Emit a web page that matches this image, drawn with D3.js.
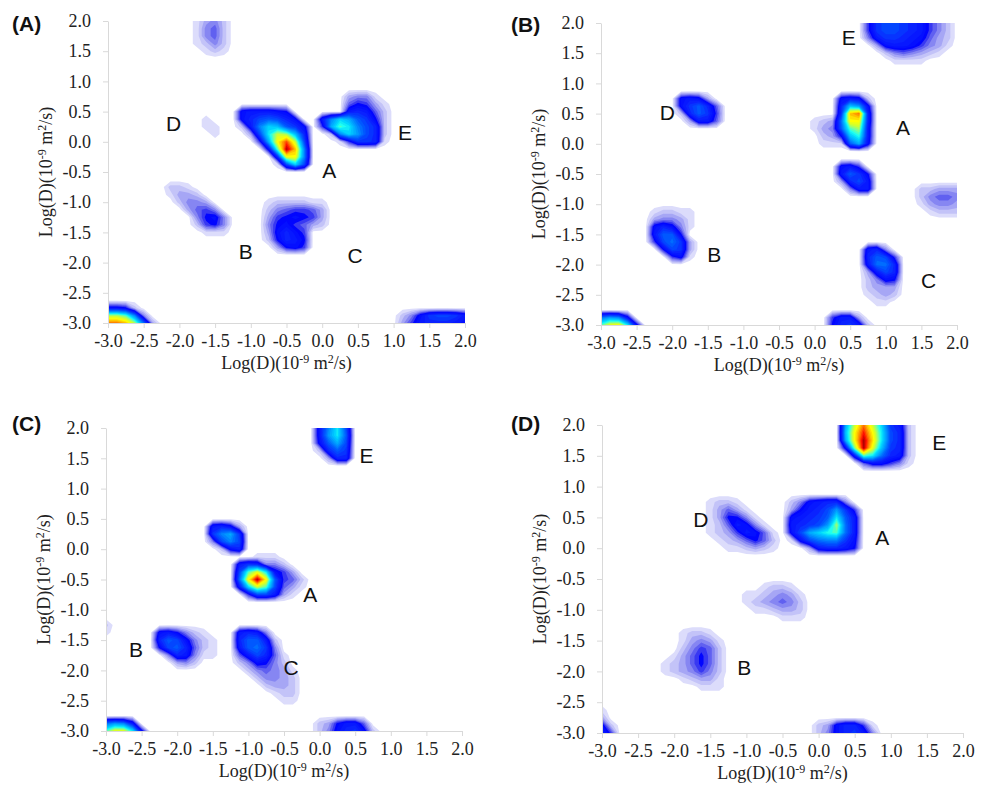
<!DOCTYPE html>
<html>
<head>
<meta charset="utf-8">
<script src="https://cdn.jsdelivr.net/npm/d3@7"></script>
<style>
  body { margin: 0; background: #fff; }
</style>
</head>
<body>
<svg id="chart" width="981" height="788"></svg>
<script>
// grid: log(D) from -3 to 2 on both axes, step 0.125 (41 x 41 points)
// each patch: top-left corner (x, y) in data units, rows go down, columns go right
// each character is an intensity level in base 36 (0 = nothing, z = 35 = peak max)
const step = 0.125

const xTicks = [-3, -2.5, -2, -1.5, -1, -0.5, 0, 0.5, 1, 1.5, 2]
const yTicks = [-3, -2.5, -2, -1.5, -1, -0.5, 0, 0.5, 1, 1.5, 2]

const panelA = [
  {x: -1.875, y: 2, rows: ['013420', '014520', '014520', '012420', '001210', '000000']},
  {x: -1.75, y: 0.5, rows: ['0000', '0100', '0110', '0010', '0000']},
  {x: -1.25, y: 0.625, rows: ['00000000000', '08999870000', '08acdca8000', '029fjidb800', '003ckpoia00',
    '0006hrwpc00', '00008mztf00', '00000aqrf00', '000001cjc00', '00000000000']},
  {x: -0.25, y: 1, rows: ['00000000000', '00000000000', '00000344100', '00000576310', '000009a9520',
    '009fjhdb720', '006hmkfca20', '0002fjgca20', '000016bba10', '00000000000']},
  {x: -2.25, y: -0.625, rows: ['000000000', '022100000', '013320000', '002443000', '000356400',
    '000047840', '000026740', '000001110', '000000000']},
  {x: -0.875, y: -0.875, rows: ['0000000000', '0122221100', '0245665300', '0367876300', '0478653200',
    '038a860000', '027a970000', '0037860000', '0000000000']},
  {x: -3, y: -2.625, rows: ['0000000', '8872000', 'oomf400', 'vvtoe30']},
  {x: 1, y: -2.75, rows: ['000000000', '0248bccb9', '0369aaa98']}
]

const panelB = [
  {x: 0.625, y: 2, rows: ['06bccba96420', '06bccba96420', '049bba985320', '003899864310', '000245432100',
    '000011110000', '000000000000']},
  {x: 0, y: 0.875, rows: ['00000000', '00089820', '000aig80', '000btva0', '123erra0', '134dmo90',
    '0237il90', '0111dh80', '00000000']},
  {x: 0.25, y: -0.25, rows: ['000000', '089600', '09db70', '03ac90', '004990', '000000']},
  {x: -2, y: 0.875, rows: ['0000000', '0898300', '08bda50', '02adb60', '0039950', '0000000']},
  {x: -2.375, y: -1, rows: ['000000', '012211', '034431', '08a841', '09dd70', '06ceb3', '007cb3',
    '000681', '000000']},
  {x: 0.5, y: -1.625, rows: ['0000000', '009a400', '00adc60', '009eea0', '0039ca0', '0024870',
    '0023330', '0012320', '0001100', '0000000']},
  {x: 1.375, y: -0.625, rows: ['000000', '022333', '024554', '013443', '001222', '000000']},
  {x: -3, y: -2.75, rows: ['000000', 'egf800', 'mqrk80']},
  {x: 0.125, y: -2.75, rows: ['000000', '069930', '07ab92']}
]

const panelC = [
  {x: -0.125, y: 2, rows: ['09fkc0', '09gkd0', '08dhc0', '02adb0', '003aa0', '000000']},
  {x: -1.625, y: 0.5, rows: ['000000', '09a830', '0bfhb0', '04cfc0', '0028a0', '000000']},
  {x: -1.25, y: -0.125, rows: ['0001110000', '09ba442000', '0cmqk86300', '0erzrd6520', '09jpmc5310',
    '006cc93100', '0000000000']},
  {x: -2.375, y: -1.25, rows: ['000000000', '089742100', '0adc84210', '07cda5210', '004a94110',
    '000342000', '000000000']},
  {x: -3, y: -1.125, rows: ['00', '20', '10', '00']},
  {x: -1.25, y: -1.25, rows: ['000000000', '09a940000', '0add92000', '09deb4000', '059ca5100',
    '024874200', '002454310', '000244320', '000023320', '000001220', '000000110', '000000000']},
  {x: -3, y: -2.75, rows: ['000000', 'egf900', 'mqqk80']},
  {x: -0.125, y: -2.75, rows: ['000000000', '023799500', '0248ab820']}
]

const panelD = [
  {x: 0.25, y: 2, rows: ['0hpvpjb920', '0irxrkca20', '0hrzskca20', '08nzqiba20', '009mkea920',
    '0005886410', '0000000000']},
  {x: -0.5, y: 0.875, rows: ['0000000000', '02489aa400', '0379acgb60', '089abdkd90', '09abcgoe90',
    '08chjlme90', '018ceffb80', '00039aa970', '0000000000']},
  {x: -1.625, y: 0.875, rows: ['0000000000', '0122100000', '0135310000', '0137741000', '0125984100',
    '0123698510', '0012357520', '0001123210', '0000000000']},
  {x: -1.125, y: -0.5, rows: ['000000000', '000122100', '011234310', '012345420', '001123320',
    '000001110', '000000000']},
  {x: -2.25, y: -1.25, rows: ['000000000', '000122100', '000134310', '000246520', '001357520',
    '012357520', '012346420', '000123310', '000001110', '000000000']},
  {x: -3, y: -2.5, rows: ['000', '100', '300', '820', 'a60']},
  {x: -0.125, y: -2.75, rows: ['000000000', '0238aa610', '0248ab940']}
]

// peak names and where they sit, in data units
const labelsA = [['D', -2.08, 0.31], ['A', 0.1, -0.47], ['E', 1.16, 0.15], ['B', -1.07, -1.82], ['C', 0.46, -1.89]]
const labelsB = [['E', 0.48, 1.76], ['D', -2.07, 0.52], ['A', 1.24, 0.27], ['B', -1.41, -1.84], ['C', 1.6, -2.27]]
const labelsC = [['E', 0.66, 1.55], ['A', -0.13, -0.74], ['B', -2.58, -1.66], ['C', -0.4, -1.96]]
const labelsD = [['E', 1.67, 1.72], ['D', -1.63, 0.46], ['A', 0.88, 0.18], ['B', -1.03, -1.94]]

// layout
const frames = {
  A: {l: 108, r: 465, t: 21, b: 323, tag: [12, 31]},
  B: {l: 601, r: 957, t: 23, b: 325, tag: [511, 32]},
  C: {l: 106, r: 462, t: 428, b: 731, tag: [12, 431]},
  D: {l: 602, r: 963, t: 425, b: 733, tag: [511, 431]}
}
const serif = "'Liberation Serif', 'Times New Roman', 'DejaVu Serif', serif"
const sans = "'Liberation Sans', Arial, 'DejaVu Sans', sans-serif"

const svg = d3.select('#chart')

const thresholds = d3.range(0.5, 35, 1)
const lavender = ['#dcdcfb', '#c3c3f8', '#a6a6f5', '#8686f2', '#6060f0', '#3838f2']
const jet = d3.scaleLinear()
  .domain([6.5, 10, 13, 16, 19, 21, 23, 25, 27, 29, 31, 33, 35])
  .range(['#0000ff', '#0a22ff', '#0058ff', '#0098ff', '#00d4ff', '#20fff0', '#80ff90',
    '#d0ff30', '#ffff00', '#ffc000', '#ff7000', '#ff1000', '#a80000'])
  .clamp(true)
const bandColor = t => t < 6 ? lavender[Math.round(t - 0.5)] : jet(t + 0.5)

const n = 41

const buildGrid = patches => {
  const g = new Array(n * n).fill(0)
  patches.forEach(p => {
    const c0 = Math.round((p.x + 3) / step)
    const r0 = Math.round((2 - p.y) / step)
    p.rows.forEach((row, r) => {
      [...row].forEach((ch, c) => {
        const i = (r0 + r) * n + c0 + c
        g[i] = Math.max(g[i], parseInt(ch, 36))
      })
    })
  })
  return g
}

const fmt = d => d.toFixed(1)

const axisTitle = sel => {
  sel.style('font-family', serif).attr('font-size', 18).attr('fill', '#222')
  sel.append('tspan').text('Log(D)(10')
  sel.append('tspan').attr('font-size', 12).attr('dy', -6).text('-9')
  sel.append('tspan').attr('dy', 6).text(' m')
  sel.append('tspan').attr('font-size', 12).attr('dy', -6).text('2')
  sel.append('tspan').attr('dy', 6).text('/s)')
}

const drawPanel = (key, patches, labels) => {
  const f = frames[key]
  const xs = d3.scaleLinear().domain([-3, 2]).range([f.l, f.r])
  const ys = d3.scaleLinear().domain([-3, 2]).range([f.b, f.t])
  const g = svg.append('g')

  g.append('clipPath').attr('id', 'clip' + key)
    .append('rect')
    .attr('x', f.l).attr('y', f.t)
    .attr('width', f.r - f.l).attr('height', f.b - f.t)

  const grid = buildGrid(patches)
  const contours = d3.contours().size([n, n]).thresholds(thresholds)(grid)

  const path = d3.geoPath(d3.geoTransform({
    point(cx, cy) {
      this.stream.point(xs(-3 + step * (cx - 0.5)), ys(2 - step * (cy - 0.5)))
    }
  }))

  g.append('g')
    .attr('clip-path', `url(#clip${key})`)
    .selectAll('path')
    .data(contours)
    .join('path')
    .attr('d', path)
    .attr('fill', d => bandColor(d.value))

  const ax = g.append('g')
    .attr('transform', `translate(0,${f.b})`)
    .call(d3.axisBottom(xs).tickValues(xTicks).tickFormat(fmt).tickSize(5).tickSizeOuter(0).tickPadding(6))
  const ay = g.append('g')
    .attr('transform', `translate(${f.l},0)`)
    .call(d3.axisLeft(ys).tickValues(yTicks).tickFormat(fmt).tickSize(5).tickSizeOuter(0).tickPadding(12))

  ;[ax, ay].forEach(a => {
    a.attr('font-family', null)
    a.select('.domain').attr('stroke', '#d9d9d9')
    a.selectAll('.tick line').attr('stroke', '#d9d9d9')
    a.selectAll('text')
      .style('font-family', serif)
      .attr('font-size', 18)
      .attr('fill', '#222')
  })

  g.append('text')
    .attr('x', (f.l + f.r) / 2)
    .attr('y', f.b + 46)
    .attr('text-anchor', 'middle')
    .call(axisTitle)

  g.append('text')
    .attr('transform', `translate(${f.l - 56},${(f.t + f.b) / 2}) rotate(-90)`)
    .attr('text-anchor', 'middle')
    .call(axisTitle)

  g.selectAll('.peak')
    .data(labels)
    .join('text')
    .attr('class', 'peak')
    .attr('x', d => xs(d[1]))
    .attr('y', d => ys(d[2]))
    .attr('text-anchor', 'middle')
    .attr('dominant-baseline', 'central')
    .style('font-family', sans)
    .attr('font-size', 21)
    .attr('fill', '#111')
    .text(d => d[0])

  g.append('text')
    .attr('x', f.tag[0])
    .attr('y', f.tag[1])
    .style('font-family', sans)
    .attr('font-weight', 'bold')
    .attr('font-size', 21)
    .attr('fill', '#111')
    .text(`(${key})`)
}

drawPanel('A', panelA, labelsA)
drawPanel('B', panelB, labelsB)
drawPanel('C', panelC, labelsC)
drawPanel('D', panelD, labelsD)
</script>
</body>
</html>
